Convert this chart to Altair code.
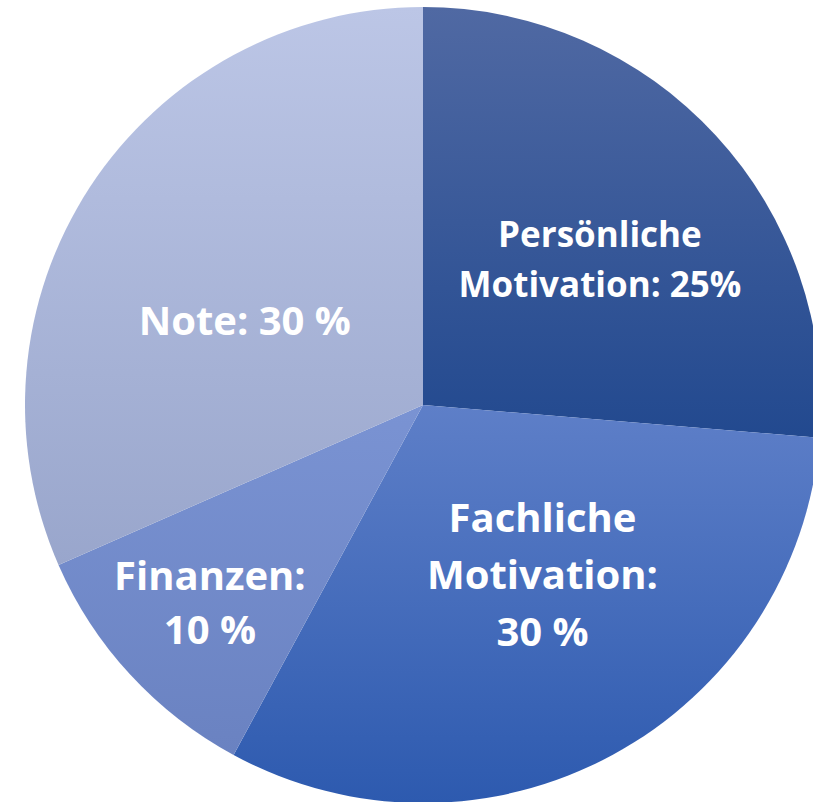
import altair as alt
import pandas as pd

categories = ["Persönliche Motivation", "Fachliche Motivation", "Finanzen", "Note"]
values = [25, 30, 10, 30]
labels = ["Persönliche\nMotivation: 25%", "Fachliche\nMotivation:\n30 %", "Finanzen:\n10 %", "Note: 30 %"]
order = [0, 1, 2, 3]

# styles (colour gradients and label placement), kept apart from the data
grad = {
    "Persönliche Motivation": ("#5069A3", "#22498F"),
    "Fachliche Motivation": ("#5E7FC8", "#2D5AAF"),
    "Finanzen": ("#7A93D3", "#6A82C1"),
    "Note": ("#BCC6E6", "#99A6CC"),
}
# radius, dx, dy, fontSize, lineHeight
label_style = {
    "Persönliche Motivation": (231, 7, -13, 35, 50),
    "Fachliche Motivation": (209, 20, -69, 40, 57),
    "Finanzen": (291, 1, -24, 40, 54),
    "Note": (195, -15, 25, 40, 50),
}

df = pd.DataFrame({"cat": categories, "value": values, "label": labels, "order": order})

R = 398
CX, CY = 423, 405

base = alt.Chart(df).transform_window(
    cum="sum(value)", sort=[alt.SortField("order")], frame=[None, 0]
).transform_joinaggregate(
    total="sum(value)"
).transform_calculate(
    t0="(datum.cum - datum.value) / datum.total",
    t1="datum.cum / datum.total",
    tm="(datum.cum - datum.value / 2) / datum.total",
)

theta_scale = alt.Scale(domain=[0, 1], range=[0, 6.283185307179586])

layers = []
for c in categories:
    top, bot = grad[c]
    layers.append(
        base.transform_filter(alt.datum.cat == c).mark_arc(
            outerRadius=R,
            fill=alt.Gradient(
                gradient="linear",
                x1=0, y1=0, x2=0, y2=1,
                stops=[alt.GradientStop(color=top, offset=0),
                       alt.GradientStop(color=bot, offset=1)],
            ),
        ).encode(
            theta=alt.Theta("t0:Q", scale=theta_scale),
            theta2="t1:Q",
            x=alt.value(CX),
            y=alt.value(CY),
        )
    )

for c in categories:
    r, dx, dy, fs, lh = label_style[c]
    layers.append(
        base.transform_filter(alt.datum.cat == c).mark_text(
            radius=r, dx=dx, dy=dy,
            font="Open Sans", fontWeight="bold", fontSize=fs,
            color="white", align="center", baseline="middle",
            lineBreak="\n", lineHeight=lh,
        ).encode(
            theta=alt.Theta("tm:Q", scale=theta_scale),
            text="label:N",
            x=alt.value(CX),
            y=alt.value(CY),
        )
    )

chart = alt.layer(*layers).properties(
    width=813, height=802, background="white", padding=0,
    autosize=alt.AutoSizeParams(type="none"),
).configure_view(stroke=None)

chart.save("out.html", embed_options={"renderer": "svg", "actions": False})
